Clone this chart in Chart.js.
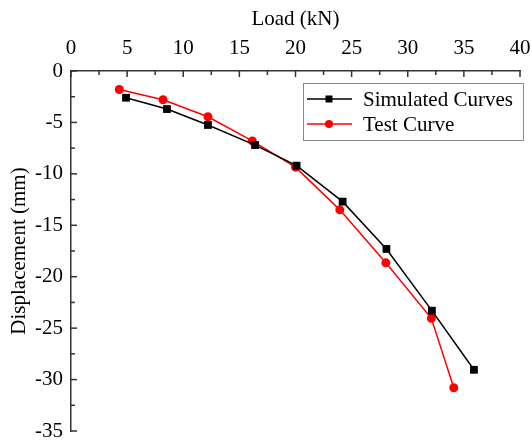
<!DOCTYPE html>
<html>
<head>
<meta charset="utf-8">
<script src="https://cdn.jsdelivr.net/npm/chart.js@4"></script>
<style>
html,body{margin:0;padding:0;background:#fff;}
#wrap{width:532px;height:440px;position:relative;}
</style>
</head>
<body>
<div id="wrap"><canvas id="c" width="532" height="440"></canvas></div>
<script>
// Data
const simLoad = [4.9, 8.55, 12.2, 16.4, 20.1, 24.2, 28.1, 32.15, 35.9];
const simDisp = [-2.6, -3.7, -5.25, -7.2, -9.2, -12.7, -17.3, -23.3, -29.05];
const testLoad = [4.3, 8.2, 12.2, 16.15, 20.0, 23.95, 28.05, 32.1, 34.1];
const testDisp = [-1.8, -2.8, -4.45, -6.8, -9.35, -13.5, -18.65, -24.05, -30.8];
const xTicks = [0, 5, 10, 15, 20, 25, 30, 35, 40];
const yTicks = [0, -5, -10, -15, -20, -25, -30, -35];
const seriesNames = ['Simulated Curves', 'Test Curve'];

const FONT = "'Liberation Serif', 'Times New Roman', serif";

const toPts = (xs, ys) => xs.map((x, i) => ({x: x, y: ys[i]}));

const inwardTicks = {
  id: 'inwardTicks',
  afterDraw(chart) {
    const ctx = chart.ctx;
    const xs = chart.scales.x, ys = chart.scales.y;
    const ca = chart.chartArea;
    ctx.save();
    ctx.strokeStyle = '#333';
    ctx.lineWidth = 1.5;
    for (let v = xs.min; v <= xs.max + 1e-9; v += 2.5) {
      const px = xs.getPixelForValue(v);
      const major = Math.abs(v / 5 - Math.round(v / 5)) < 1e-6;
      const len = major ? 6 : 4;
      ctx.beginPath();
      ctx.moveTo(px, ca.top);
      ctx.lineTo(px, ca.top + len);
      ctx.stroke();
    }
    for (let v = ys.max; v >= ys.min - 1e-9; v -= 2.5) {
      const py = ys.getPixelForValue(v);
      const major = Math.abs(v / 5 - Math.round(v / 5)) < 1e-6;
      const len = major ? 6 : 4;
      ctx.beginPath();
      ctx.moveTo(ca.left, py);
      ctx.lineTo(ca.left + len, py);
      ctx.stroke();
    }
    ctx.restore();
  }
};

const boxLegend = {
  id: 'boxLegend',
  afterDraw(chart) {
    const ctx = chart.ctx;
    const bx = 303, by = 83, bw = 220, bh = 57;
    ctx.save();
    ctx.fillStyle = '#fff';
    ctx.fillRect(bx, by, bw, bh);
    ctx.strokeStyle = '#888';
    ctx.lineWidth = 1;
    ctx.strokeRect(bx + 0.5, by + 0.5, bw, bh);
    chart.data.datasets.forEach((ds, i) => {
      const cy = by + 16 + i * 25;
      ctx.strokeStyle = ds.borderColor;
      ctx.lineWidth = 1.5;
      ctx.beginPath();
      ctx.moveTo(bx + 4, cy);
      ctx.lineTo(bx + 49, cy);
      ctx.stroke();
      ctx.fillStyle = ds.pointBackgroundColor;
      if (ds.pointStyle === 'rect') {
        ctx.fillRect(bx + 26 - 3.5, cy - 3.5, 7, 7);
      } else {
        ctx.beginPath();
        ctx.arc(bx + 26, cy, 4, 0, Math.PI * 2);
        ctx.fill();
      }
      ctx.fillStyle = '#000';
      ctx.font = '21px ' + FONT;
      ctx.textBaseline = 'middle';
      ctx.textAlign = 'left';
      ctx.fillText(ds.label, bx + 60, cy + 1);
    });
    ctx.restore();
  }
};

new Chart(document.getElementById('c'), {
  type: 'scatter',
  data: {
    datasets: [
      {
        label: seriesNames[0],
        data: toPts(simLoad, simDisp),
        showLine: true,
        borderColor: '#000',
        backgroundColor: '#000',
        pointBackgroundColor: '#000',
        pointBorderColor: '#000',
        borderWidth: 1.5,
        pointStyle: 'rect',
        pointRadius: 5.5,
        pointBorderWidth: 0,
        tension: 0
      },
      {
        label: seriesNames[1],
        data: toPts(testLoad, testDisp),
        showLine: true,
        borderColor: '#ff0000',
        backgroundColor: '#ff0000',
        pointBackgroundColor: '#ff0000',
        pointBorderColor: '#ff0000',
        borderWidth: 1.5,
        pointStyle: 'circle',
        pointRadius: 4.5,
        pointBorderWidth: 0,
        tension: 0
      }
    ]
  },
  options: {
    responsive: false,
    animation: false,
    devicePixelRatio: 1,
    layout: { padding: { left: 0, top: 0, right: 12, bottom: 9 } },
    plugins: { legend: { display: false }, tooltip: { enabled: false } },
    scales: {
      x: {
        type: 'linear',
        position: 'top',
        min: 0, max: 40,
        afterBuildTicks: (s) => { s.ticks = xTicks.map(v => ({value: v})); },
        afterFit: (s) => { s.height = 71; s.paddingLeft = 0; s.paddingRight = 0; },
        ticks: { color: '#000', font: { family: FONT, size: 21 }, padding: 10, maxRotation: 0 },
        grid: { display: false, drawTicks: false },
        border: { display: true, color: '#333', width: 1.5 },
        title: { display: true, text: 'Load (kN)', color: '#000', font: { family: FONT, size: 21 }, padding: { top: 7, bottom: 0 } }
      },
      y: {
        type: 'linear',
        position: 'left',
        min: -35, max: 0,
        afterBuildTicks: (s) => { s.ticks = yTicks.map(v => ({value: v})); },
        afterFit: (s) => { s.width = 71; s.paddingTop = 0; s.paddingBottom = 0; },
        ticks: { color: '#000', font: { family: FONT, size: 21 }, padding: 8 },
        grid: { display: false, drawTicks: false },
        border: { display: true, color: '#333', width: 1.5 },
        title: { display: true, text: 'Displacement (mm)', color: '#000', font: { family: FONT, size: 21 }, padding: { top: 7, bottom: 0 } }
      }
    }
  },
  plugins: [inwardTicks, boxLegend]
});
</script>
</body>
</html>
